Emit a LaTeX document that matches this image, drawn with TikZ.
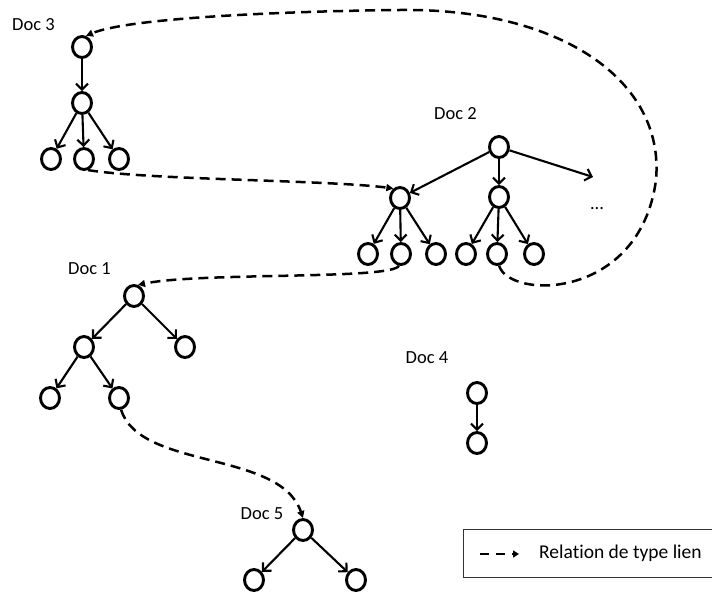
\documentclass[tikz,border=0pt]{standalone}
\usepackage{fontspec}
\setmainfont{Carlito}[RawFeature=-liga]
\usetikzlibrary{arrows.meta,shapes.geometric}
\begin{document}
\begin{tikzpicture}[x=1pt,y=-1pt,
  nd/.style={ellipse,draw,line width=2.9pt,minimum width=19pt,minimum height=21pt,inner sep=0pt},
  tree/.style={line width=2.1pt,-{Straight Barb[length=6pt,width=12pt,line width=2.1pt]}},
  link/.style={line width=2.5pt,dash pattern=on 10pt off 6pt,-{Triangle[length=7pt,width=7pt]}},
  legendlink/.style={line width=2pt,dash pattern=on 9pt off 7pt,-{Triangle[length=6pt,width=7pt]}},
  lbl/.style={font=\fontsize{18.5}{22}\selectfont,inner sep=0pt,anchor=base},
]
\useasboundingbox (0,0) rectangle (712,593);

% labels
\node[lbl] (l3) at (33.5,31) {Doc 3};
\node[lbl] (l2) at (455.5,120) {Doc 2};
\node[lbl] (l1) at (89.5,275) {Doc 1};
\node[lbl] (l4) at (427,364) {Doc 4};
\node[lbl] (l5) at (262,519) {Doc 5};

% Doc 3
\node[nd] (a1) at (82,47) {};
\node[nd] (a2) at (82,103) {};
\node[nd] (a3) at (51,159) {};
\node[nd] (a4) at (84,159) {};
\node[nd] (a5) at (119,159) {};
\draw[tree] (a1) -- (a2);
\draw[tree] (a2) -- (a3);
\draw[tree] (a2) -- (a4);
\draw[tree] (a2) -- (a5);

% Doc 2
\node[nd] (b1) at (499,147) {};
\node[nd] (b2) at (400,198) {};
\node[nd] (b3) at (499,197) {};
\node[nd] (b4) at (368,254) {};
\node[nd] (b5) at (401,254) {};
\node[nd] (b6) at (436,254) {};
\node[nd] (b7) at (466,254) {};
\node[nd] (b8) at (497,254) {};
\node[nd] (b9) at (534,254) {};
\coordinate (dotsend) at (593,177);
\node[lbl] (dots) at (597,210) {...};
\draw[tree] (b1) -- (b2);
\draw[tree] (b1) -- (b3);
\draw[tree] (b1) -- (dotsend);
\draw[tree] (b2) -- (b4);
\draw[tree] (b2) -- (b5);
\draw[tree] (b2) -- (b6);
\draw[tree] (b3) -- (b7);
\draw[tree] (b3) -- (b8);
\draw[tree] (b3) -- (b9);

% Doc 1
\node[nd] (d1) at (134,296) {};
\node[nd] (d2) at (84,347) {};
\node[nd] (d3) at (185,347) {};
\node[nd] (d4) at (50,398) {};
\node[nd] (d5) at (119,398) {};
\draw[tree] (d1) -- (d2);
\draw[tree] (d1) -- (d3);
\draw[tree] (d2) -- (d4);
\draw[tree] (d2) -- (d5);

% Doc 4
\node[nd] (f1) at (477,393) {};
\node[nd] (f2) at (477,443) {};
\draw[tree] (f1) -- (f2);

% Doc 5
\node[nd] (g1) at (303,530) {};
\node[nd] (g2) at (254,580) {};
\node[nd] (g3) at (356,580) {};
\draw[tree] (g1) -- (g2);
\draw[tree] (g1) -- (g3);

% links
\coordinate (w1) at (656,180);
\coordinate (w2) at (400,10);
\draw[link] (b8.-80) .. controls (510,300) and (640,300) .. (w1)
  .. controls (665,80) and (560,8) .. (w2)
  .. controls (300,11) and (130,17) .. (a1.70);
\draw[link] (a4.-70) .. controls (150,180) and (330,180) .. (b2.125);
\draw[link] (b5.-100) .. controls (392,280) and (200,272) .. (d1.70);
\draw[link] (d5.-80) .. controls (140,470) and (280,450) .. (g1.north);

% legend
\draw[line width=1pt,draw=black!80] (712,529) -- (463,529) -- (463,577) -- (712,577);
\coordinate (k1) at (480,554);
\coordinate (k2) at (519,554);
\draw[legendlink] (k1) -- (k2);
\node[font=\fontsize{19.5}{23}\selectfont,inner sep=0pt,anchor=base west] (ltext) at (539,558) {Relation de type lien};
\end{tikzpicture}
\end{document}
